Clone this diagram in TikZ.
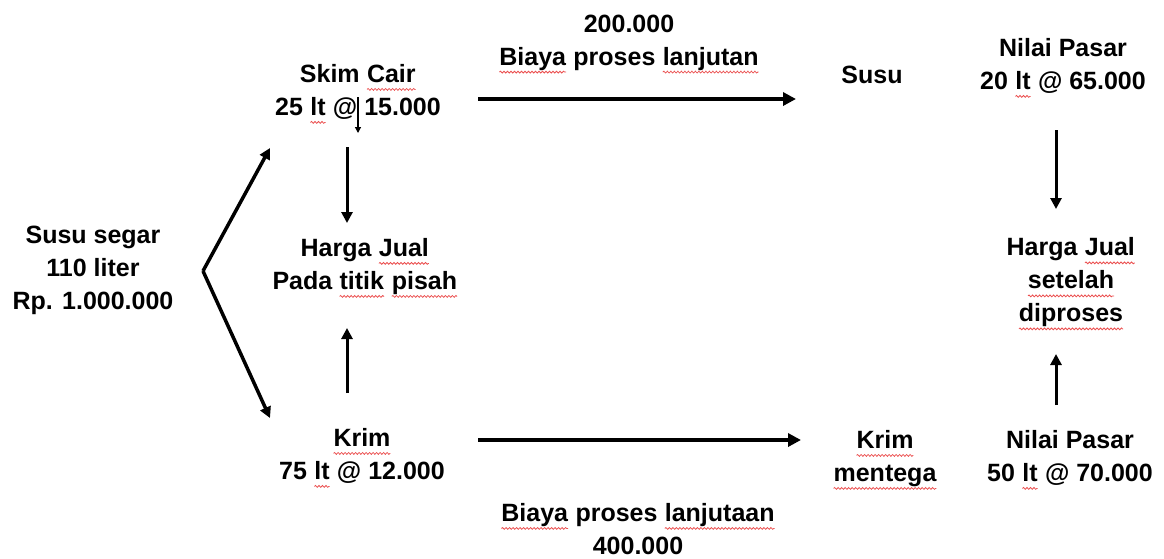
\documentclass[tikz,border=0pt]{standalone}
\usepackage{fontspec}
\setmainfont{Liberation Sans}
\usetikzlibrary{arrows.meta,decorations.pathmorphing}
\definecolor{wavecol}{RGB}{235,80,80}
\newcommand\rw[1]{\tikz[baseline=(w.base)]{\node[inner sep=0pt,outer sep=0pt] (w) {#1};\draw[wavecol,line width=0.8pt,decorate,decoration={snake,amplitude=0.9pt,segment length=3.5pt}] ([yshift=-7pt]w.base west) -- ([yshift=-7pt]w.base east);}}
\tikzset{
  txt/.style={font={\fontsize{25pt}{33pt}\selectfont\bfseries}, align=center, inner sep=0pt},
  harrow/.style={line width=4pt, -{Triangle[length=13pt,width=13pt]}},
  varrow/.style={line width=3pt, -{Triangle[length=11pt,width=11pt]}},
  chev/.style={line width=3.5pt, -{Triangle[length=11pt,width=11pt]}},
  thin arrow/.style={line width=1.2pt, -{Triangle[length=6pt,width=6pt]}},
}
\begin{document}
\begin{tikzpicture}[x=1pt,y=-1pt]
\useasboundingbox (0,0) rectangle (1164,558);
% text nodes
\node[txt] (segar) at (93,270) {Susu segar\\110 liter\\Rp. 1.000.000};
\node[txt] (skim) at (358,94) {Skim \rw{Cair}\\25 \rw{lt} @ 15.000};
\node[txt] (hjl) at (365,268) {Harga \rw{Jual}\\Pada \rw{titik} \rw{pisah}};
\node[txt] (krim) at (362,458) {\rw{Krim}\\75 \rw{lt} @ 12.000};
\node[txt] (b1) at (629,44) {200.000\\\rw{Biaya} proses \rw{lanjutan}};
\node[txt] (susu) at (872,75) {Susu};
\node[txt] (np1) at (1063,68) {Nilai Pasar\\20 \rw{lt} @ 65.000};
\node[txt] (hjr) at (1071,284) {Harga \rw{Jual}\\\rw{setelah}\\\rw{diproses}};
\node[txt] (krm) at (885,460) {\rw{Krim}\\\rw{mentega}};
\node[txt] (np2) at (1070,460) {Nilai Pasar\\50 \rw{lt} @ 70.000};
\node[txt] (b2) at (638,529) {\rw{Biaya} proses \rw{lanjutaan}\\400.000};
% connector end points
\coordinate (v) at (203,271);
\coordinate (c1) at (270,148);
\coordinate (c2) at (270,418);
\coordinate (s1) at (358,97);
\coordinate (s2) at (358,133);
\coordinate (d1) at (347,147);
\coordinate (d2) at (347,223);
\coordinate (u1) at (347,393);
\coordinate (u2) at (347,328);
\coordinate (h1) at (478,99);
\coordinate (h2) at (796,99);
\coordinate (k1) at (478,440);
\coordinate (k2) at (801,440);
\coordinate (rd1) at (1056,130);
\coordinate (rd2) at (1056,209);
\coordinate (ru1) at (1056,405);
\coordinate (ru2) at (1056,354);
% connectors
\draw[chev] (v) -- (c1);
\draw[chev] (v) -- (c2);
\draw[thin arrow] (s1) -- (s2);
\draw[varrow] (d1) -- (d2);
\draw[varrow] (u1) -- (u2);
\draw[harrow] (h1) -- (h2);
\draw[harrow] (k1) -- (k2);
\draw[varrow] (rd1) -- (rd2);
\draw[varrow] (ru1) -- (ru2);
\end{tikzpicture}
\end{document}
